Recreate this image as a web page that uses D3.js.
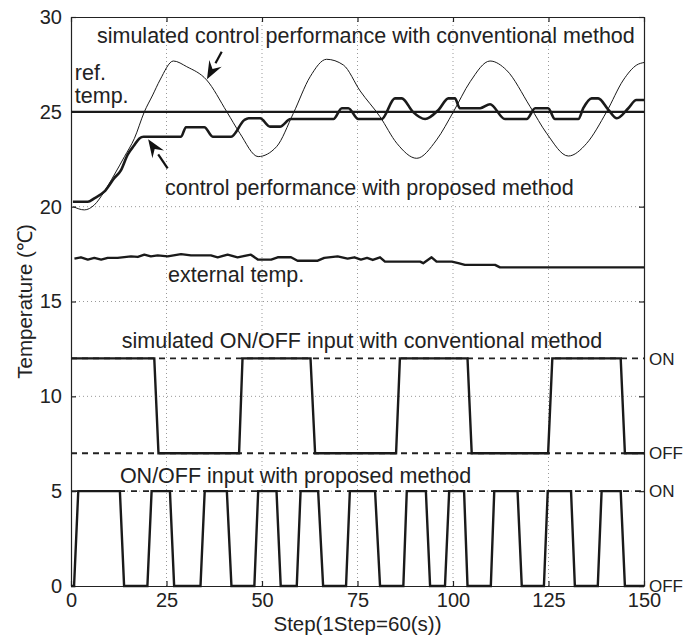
<!DOCTYPE html>
<html>
<head>
<meta charset="utf-8">
<script src="https://cdn.jsdelivr.net/npm/d3@7"></script>
<style>
    body { margin: 0; background: #fff; }
    svg { font-family: "Liberation Sans", Arial, sans-serif; }
    .axis text { font-size: 20px; fill: #222; }
    .axis path, .axis line { stroke: #222; stroke-width: 1.2; }
    .grid line { stroke: #999; stroke-width: 1; stroke-dasharray: 1,3; }
    .note { font-size: 21.5px; fill: #222; }
    .lvl { font-size: 17px; fill: #222; }
</style>
</head>
<body>
<svg width="694" height="640"></svg>
<script>
// x ticks / y ticks
var stepTicks = [0, 25, 50, 75, 100, 125, 150];
var tempTicks = [0, 5, 10, 15, 20, 25, 30];

// reference temperature
var refTemp = 25;

// simulated control performance with conventional method (thin line)
var convSteps = [0.6, 3.5, 6.1, 8.7, 11.3, 14, 16.6, 19.2, 21.4, 23.3, 26.8, 30.3, 35.5, 40.8, 44.2, 49, 53.8, 58.2, 62.6, 66.9, 71.3, 75.7, 80.9, 85.3, 90.5, 95.7, 100.1, 104.5, 109.7, 114, 120.2, 124.5, 130.2, 135, 140.2, 144.6, 148.1, 150];
var convTemps = [20.0, 19.83, 20.09, 20.79, 21.67, 22.64, 23.6, 25.0, 25.89, 26.68, 27.68, 27.38, 26.68, 25.0, 23.87, 22.64, 23.16, 24.92, 26.85, 27.77, 27.47, 26.1, 24.74, 23.34, 22.55, 23.52, 25.0, 26.59, 27.68, 27.2, 25.27, 23.87, 22.67, 23.34, 25.0, 26.68, 27.47, 27.6];

// control performance with proposed method (thick line)
var propSteps = [0.5, 4.4, 6.1, 8.7, 11.3, 13.1, 14.8, 16.6, 17.9, 19, 28.8, 30.1, 34.9, 37.1, 41.9, 45.4, 46.5, 49.5, 52.1, 54.7, 57.5, 68.7, 70.9, 72.6, 75.2, 81.3, 84.8, 86.6, 89.5, 92.7, 96.2, 98.8, 100.5, 101.8, 107.1, 109.7, 113.6, 119.3, 121.5, 124.9, 126.7, 132.8, 134.1, 136.3, 138, 140.7, 142.9, 145.9, 148, 150];
var propTemps = [20.26, 20.26, 20.44, 20.79, 21.5, 21.93, 22.73, 23.25, 23.6, 23.69, 23.69, 24.19, 24.19, 23.69, 23.69, 24.57, 24.66, 24.66, 24.22, 24.22, 24.62, 24.62, 25.19, 25.19, 24.62, 24.62, 25.71, 25.71, 25.0, 24.62, 25.1, 25.71, 25.71, 25.19, 25.19, 25.4, 24.62, 24.62, 25.19, 25.19, 24.62, 24.62, 25.19, 25.71, 25.71, 25.1, 24.66, 25.19, 25.62, 25.62];

// external temperature
var extSteps = [0.9, 2.6, 4.4, 6.1, 7.9, 9.6, 12.2, 15.7, 17.5, 19.2, 20.9, 22.7, 25.3, 28.8, 31.4, 36.6, 38.4, 41, 43.6, 47.1, 48.9, 52.4, 54.1, 57.6, 59.3, 64.6, 66.3, 69.8, 72.4, 74.2, 75.9, 77.5, 79, 80.9, 82.2, 91.4, 92.2, 94.4, 95.7, 99.7, 101.4, 103.1, 111, 112.3, 150];
var extTemps = [17.26, 17.33, 17.21, 17.3, 17.21, 17.3, 17.3, 17.38, 17.35, 17.47, 17.38, 17.43, 17.38, 17.5, 17.43, 17.43, 17.33, 17.47, 17.33, 17.47, 17.21, 17.21, 17.33, 17.33, 17.15, 17.15, 17.3, 17.38, 17.26, 17.33, 17.21, 17.3, 17.19, 17.33, 17.1, 17.1, 17.02, 17.33, 17.1, 17.1, 17.02, 16.93, 16.93, 16.8, 16.8];

// simulated ON/OFF input with conventional method (ON = 12, OFF = 7)
var convOnOffSteps = [0, 21.8, 22.9, 44, 44.9, 62.7, 63.9, 85.1, 86.1, 103.8, 104.9, 124.9, 126, 143.9, 145, 150];
var convOnOffLevels = [12, 12, 7, 7, 12, 12, 7, 7, 12, 12, 7, 7, 12, 12, 7, 7];

// ON/OFF input with proposed method (ON = 5, OFF = 0)
var propOnOffSteps = [0, 0.8, 1.9, 12.8, 13.9, 20, 21.1, 25.9, 27, 33.9, 35, 40.8, 42, 48, 49, 53.8, 54.9, 59.1, 60.1, 64.7, 66, 72, 73, 79.6, 80.9, 87, 87.9, 92.9, 94, 97.9, 99, 102.9, 103.8, 109.9, 110.8, 116.9, 118, 123.8, 124.8, 130.9, 131.9, 137.9, 138.9, 143.9, 145, 150];
var propOnOffLevels = [0, 0, 5, 5, 0, 0, 5, 5, 0, 0, 5, 5, 0, 0, 5, 5, 0, 0, 5, 5, 0, 0, 5, 5, 0, 0, 5, 5, 0, 0, 5, 5, 0, 0, 5, 5, 0, 0, 5, 5, 0, 0, 5, 5, 0, 0];

// ON / OFF reference levels
var levelNames = ["ON", "OFF", "ON", "OFF"];
var levelValues = [12, 7, 5, 0];

// annotations (step, temp)
var noteTexts = ["simulated control performance with conventional method", "ref.", "temp.", "control performance with proposed method", "external temp.", "simulated ON/OFF input with conventional method", "ON/OFF input with proposed method"];
var noteSteps = [6.8, 1.0, 1.0, 24.6, 25.4, 13.3, 12.8];
var noteTemps = [28.63, 26.68, 25.45, 20.6, 16.05, 12.53, 5.45];

// arrows: from -> to
var arrowFrom = [[39.45, 28.17], [25.3, 22.02]];
var arrowTo = [[35.6, 26.72], [20.2, 23.55]];

(function () {
    var svg = d3.select("svg"),
        margin = {top: 17, right: 50, bottom: 54, left: 71},
        width = svg.attr("width") - margin.left - margin.right,
        height = svg.attr("height") - margin.top - margin.bottom,
        g = svg.append("g").attr("transform", "translate(" + margin.left + "," + margin.top + ")");

    var scaleX = d3.scaleLinear().domain([0, 150]).range([0, width]),
        scaleY = d3.scaleLinear().domain([0, 30]).range([height, 0]);

    function zip(xs, ys) {
        return xs.map(function (d, i) { return [d, ys[i]]; });
    }

    // grid
    var grid = g.append("g").attr("class", "grid");
    grid.selectAll(".gx")
        .data(stepTicks.slice(1, -1))
        .enter().append("line")
        .attr("x1", function (d) { return scaleX(d); })
        .attr("x2", function (d) { return scaleX(d); })
        .attr("y1", 0).attr("y2", height);
    grid.selectAll(".gy")
        .data(tempTicks.slice(1, -1))
        .enter().append("line")
        .attr("y1", function (d) { return scaleY(d); })
        .attr("y2", function (d) { return scaleY(d); })
        .attr("x1", 0).attr("x2", width);

    // dashed ON / OFF levels
    g.selectAll(".level")
        .data(levelValues.slice(0, 3))
        .enter().append("line")
        .attr("x1", 0).attr("x2", width)
        .attr("y1", function (d) { return scaleY(d); })
        .attr("y2", function (d) { return scaleY(d); })
        .style("stroke", "#222")
        .style("stroke-width", 1.8)
        .style("stroke-dasharray", function (d) { return d === 5 ? "6,6" : "6,5"; });

    // axes, matlab style ticks inside on all four sides
    g.append("g").attr("class", "axis")
        .attr("transform", "translate(0," + height + ")")
        .call(d3.axisBottom(scaleX).tickValues(stepTicks).tickSizeInner(-5).tickSizeOuter(0).tickPadding(7));
    g.append("g").attr("class", "axis")
        .call(d3.axisLeft(scaleY).tickValues(tempTicks).tickSizeInner(-5).tickSizeOuter(0).tickPadding(9));
    g.append("g").attr("class", "axis")
        .call(d3.axisTop(scaleX).tickValues(stepTicks).tickSizeInner(-5).tickSizeOuter(0).tickFormat(""));
    g.append("g").attr("class", "axis")
        .attr("transform", "translate(" + width + ",0)")
        .call(d3.axisRight(scaleY).tickValues(tempTicks).tickSizeInner(-5).tickSizeOuter(0).tickFormat(""));

    var smooth = d3.line()
        .x(function (d) { return scaleX(d[0]); })
        .y(function (d) { return scaleY(d[1]); })
        .curve(d3.curveMonotoneX);
    var straight = d3.line()
        .x(function (d) { return scaleX(d[0]); })
        .y(function (d) { return scaleY(d[1]); });

    // reference temp
    g.append("line")
        .attr("x1", scaleX(0)).attr("x2", scaleX(150))
        .attr("y1", scaleY(refTemp)).attr("y2", scaleY(refTemp))
        .style("stroke", "#1a1a1a").style("stroke-width", 2.4);

    g.append("path")
        .attr("d", smooth(zip(convSteps, convTemps)))
        .style("fill", "none").style("stroke", "#1a1a1a").style("stroke-width", 1);

    g.append("path")
        .attr("d", smooth(zip(propSteps, propTemps)))
        .style("fill", "none").style("stroke", "#1a1a1a").style("stroke-width", 2.6)
        .style("stroke-linejoin", "round");

    g.append("path")
        .attr("d", straight(zip(extSteps, extTemps)))
        .style("fill", "none").style("stroke", "#1a1a1a").style("stroke-width", 2.4)
        .style("stroke-linejoin", "round");

    g.append("path")
        .attr("d", straight(zip(convOnOffSteps, convOnOffLevels)))
        .style("fill", "none").style("stroke", "#1a1a1a").style("stroke-width", 2.4);

    g.append("path")
        .attr("d", straight(zip(propOnOffSteps, propOnOffLevels)))
        .style("fill", "none").style("stroke", "#1a1a1a").style("stroke-width", 2.4);

    // ON / OFF labels at right
    g.selectAll(".lvlLabel")
        .data(levelNames)
        .enter().append("text")
        .attr("class", "lvl")
        .attr("x", width + 5)
        .attr("y", function (d, i) { return scaleY(levelValues[i]); })
        .attr("dy", "0.36em")
        .text(function (d) { return d; });

    // annotations
    g.selectAll(".noteText")
        .data(noteTexts)
        .enter().append("text")
        .attr("class", "note")
        .attr("x", function (d, i) { return scaleX(noteSteps[i]); })
        .attr("y", function (d, i) { return scaleY(noteTemps[i]); })
        .text(function (d) { return d; });

    // arrows
    arrowFrom.forEach(function (a, i) {
        var x1 = scaleX(a[0]), y1 = scaleY(a[1]),
            x2 = scaleX(arrowTo[i][0]), y2 = scaleY(arrowTo[i][1]),
            ang = Math.atan2(y2 - y1, x2 - x1),
            headLen = 18, headW = 7,
            bx = x2 - headLen * Math.cos(ang), by = y2 - headLen * Math.sin(ang);
        g.append("line")
            .attr("x1", x1).attr("y1", y1).attr("x2", bx).attr("y2", by)
            .style("stroke", "#111").style("stroke-width", 2.2);
        g.append("path")
            .attr("d", "M" + x2 + "," + y2 +
                "L" + (bx + headW * Math.sin(ang)) + "," + (by - headW * Math.cos(ang)) +
                "L" + (bx + 0.35 * headLen * Math.cos(ang)) + "," + (by + 0.35 * headLen * Math.sin(ang)) +
                "L" + (bx - headW * Math.sin(ang)) + "," + (by + headW * Math.cos(ang)) + "Z")
            .style("fill", "#111");
    });

    // axis labels
    svg.append("text")
        .attr("class", "note")
        .attr("x", margin.left + width / 2)
        .attr("y", 631)
        .attr("text-anchor", "middle")
        .style("font-size", "20.5px")
        .text("Step(1Step=60(s))");
    svg.append("text")
        .attr("class", "note")
        .attr("transform", "translate(32," + (margin.top + height / 2) + ") rotate(-90)")
        .attr("text-anchor", "middle")
        .style("font-size", "20.5px")
        .text("Temperature (\u2103)");
})();
</script>
</body>
</html>
